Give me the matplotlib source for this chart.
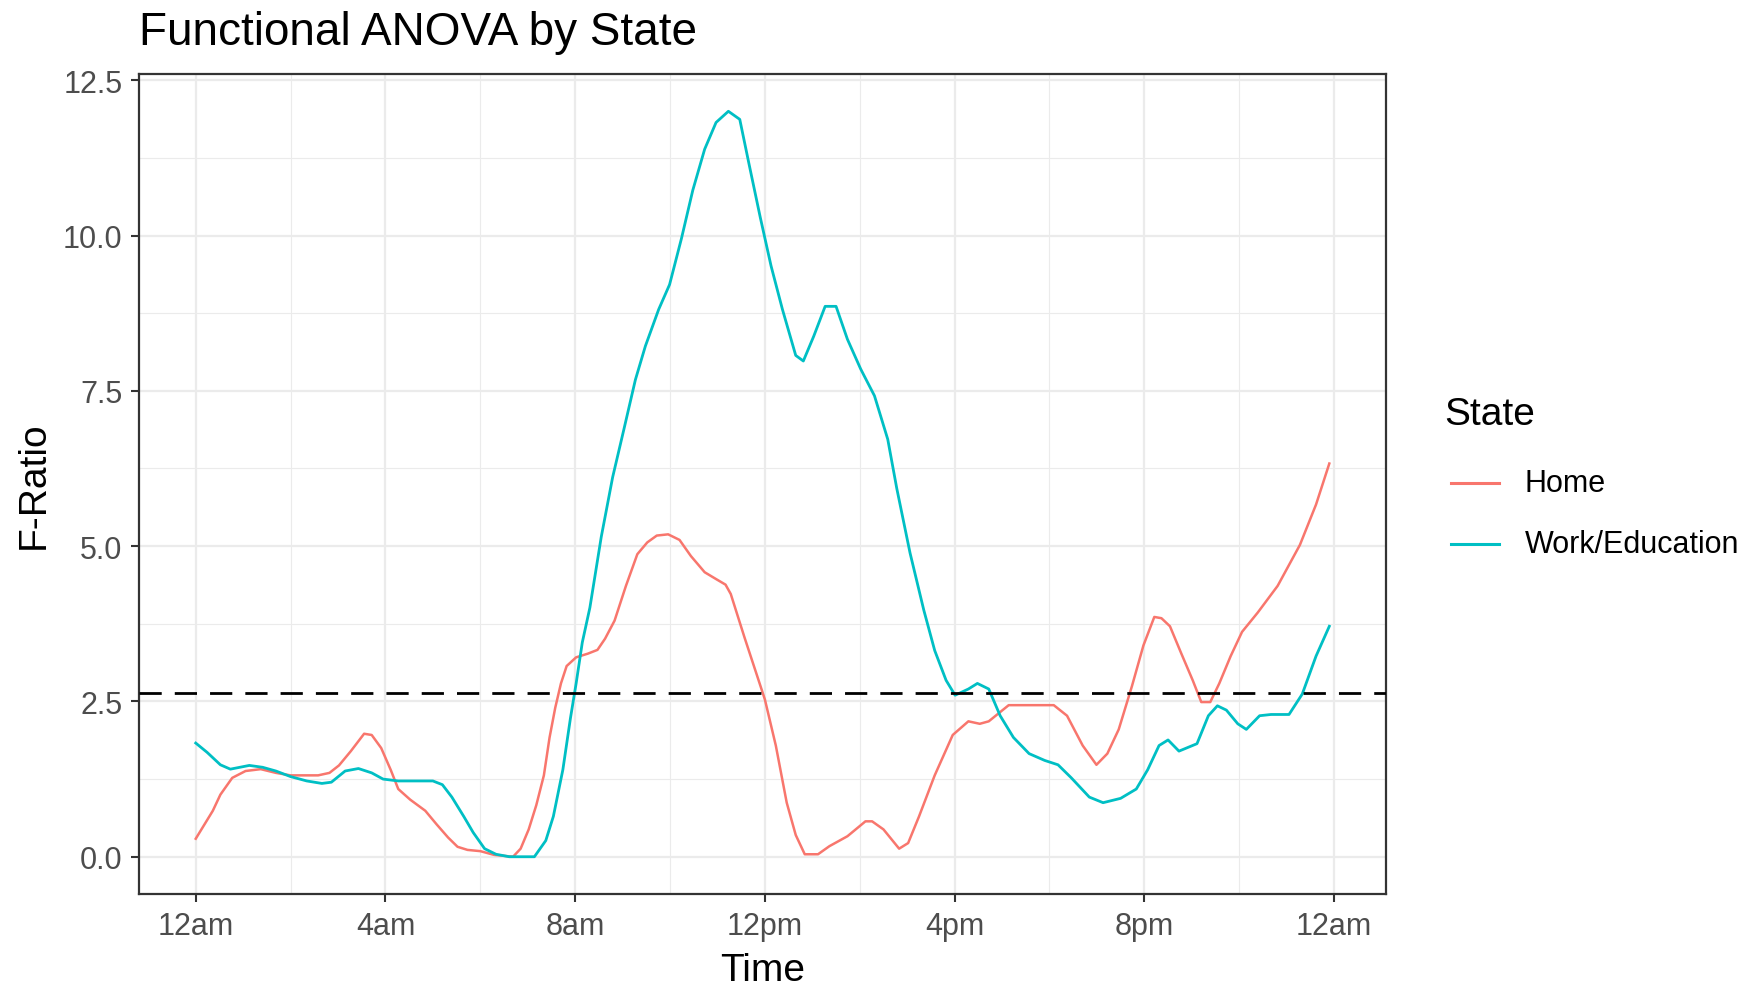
import numpy as np
import matplotlib.pyplot as plt
from matplotlib.lines import Line2D

plt.rcParams['font.family'] = ['Liberation Sans', 'DejaVu Sans']

# F-ratio curves over the day (hours since midnight)
home_t = [0.0, 0.36, 0.52, 0.77, 1.05, 1.37, 1.69, 2.0, 2.58, 2.82, 3.02, 3.27, 3.55, 3.71,
          3.91, 4.11, 4.27, 4.52, 4.84, 5.08, 5.32, 5.52, 5.73, 6.0, 6.29, 6.69, 6.85, 7.02,
          7.18, 7.34, 7.46, 7.58, 7.7, 7.82, 8.02, 8.27, 8.47, 8.63, 8.83, 9.07, 9.31, 9.52,
          9.72, 9.96, 10.2, 10.44, 10.73, 10.97, 11.17, 11.28, 11.57, 11.85, 12.0, 12.23,
          12.46, 12.65, 12.84, 13.12, 13.36, 13.74, 14.12, 14.26, 14.5, 14.83, 15.02, 15.25,
          15.58, 15.96, 16.29, 16.53, 16.72, 17.14, 17.61, 18.09, 18.37, 18.7, 18.99, 19.22,
          19.46, 19.74, 19.98, 20.21, 20.36, 20.54, 20.78, 21.02, 21.2, 21.39, 21.58, 21.82,
          22.06, 22.39, 22.81, 23.28, 23.62, 23.9]
home_f = [0.29, 0.74, 1.0, 1.27, 1.38, 1.41, 1.35, 1.31, 1.31, 1.35, 1.47, 1.70, 1.98, 1.96,
          1.75, 1.40, 1.09, 0.92, 0.74, 0.52, 0.31, 0.16, 0.11, 0.09, 0.03, 0.0, 0.13, 0.44,
          0.83, 1.31, 1.92, 2.40, 2.79, 3.07, 3.21, 3.27, 3.33, 3.51, 3.80, 4.36, 4.87, 5.06,
          5.17, 5.19, 5.10, 4.84, 4.58, 4.47, 4.38, 4.23, 3.53, 2.88, 2.53, 1.79,
          0.87, 0.35, 0.04, 0.04, 0.17, 0.33, 0.57, 0.57, 0.44, 0.13, 0.22, 0.65,
          1.31, 1.96, 2.18, 2.14, 2.18, 2.44, 2.44, 2.44, 2.27, 1.79, 1.48, 1.66,
          2.05, 2.75, 3.40, 3.86, 3.84, 3.71, 3.27, 2.84, 2.49, 2.49, 2.79, 3.23,
          3.62, 3.93, 4.36, 5.02, 5.67, 6.33]

work_t = [0.0, 0.24, 0.52, 0.73, 1.13, 1.41, 1.69, 2.0, 2.34, 2.66, 2.86, 3.15, 3.43, 3.71,
          3.95, 4.27, 5.0, 5.2, 5.4, 5.65, 5.85, 6.09, 6.33, 6.61, 7.14, 7.38, 7.54, 7.74,
          7.9, 8.02, 8.15, 8.31, 8.55, 8.79, 9.03, 9.27, 9.48, 9.76, 9.99, 10.24, 10.48,
          10.73, 10.97, 11.23, 11.47, 11.66, 11.9, 12.13, 12.37, 12.65, 12.81, 13.03, 13.27,
          13.5, 13.74, 14.02, 14.31, 14.59, 14.78, 15.06, 15.35, 15.58, 15.82, 16.01, 16.29,
          16.48, 16.72, 16.96, 17.24, 17.57, 17.9, 18.18, 18.46, 18.84, 19.13, 19.5, 19.83,
          20.07, 20.31, 20.5, 20.73, 21.11, 21.35, 21.54, 21.73, 21.97, 22.15, 22.43, 22.67,
          23.05, 23.33, 23.62, 23.9]
work_f = [1.83, 1.68, 1.48, 1.41, 1.47, 1.44, 1.38, 1.29, 1.22, 1.18, 1.20, 1.38, 1.42, 1.35,
          1.25, 1.22, 1.22, 1.16, 0.96, 0.65, 0.39, 0.13, 0.04, 0.0, 0.0, 0.26, 0.65, 1.40,
          2.23, 2.79, 3.45, 4.01, 5.15, 6.11, 6.89, 7.68, 8.22, 8.81, 9.21, 9.95, 10.73,
          11.39, 11.82, 12.0, 11.87, 11.17, 10.30, 9.51, 8.81, 8.07, 7.98, 8.38, 8.86,
          8.86, 8.33, 7.85, 7.42, 6.72, 5.93, 4.89, 3.97, 3.32, 2.84, 2.60, 2.70,
          2.79, 2.70, 2.27, 1.92, 1.66, 1.55, 1.48, 1.27, 0.96, 0.87, 0.94, 1.09,
          1.40, 1.79, 1.88, 1.70, 1.82, 2.27, 2.43, 2.36, 2.14, 2.05, 2.27, 2.29,
          2.29, 2.62, 3.23, 3.71]

critical_f = 2.64
x_ticks = [0, 4, 8, 12, 16, 20, 24]
x_labels = ['12am', '4am', '8am', '12pm', '4pm', '8pm', '12am']
y_ticks = [0.0, 2.5, 5.0, 7.5, 10.0, 12.5]
series = ['Home', 'Work/Education']
colors = ['#F8766D', '#00BFC4']

fig = plt.figure(figsize=(17.58, 9.87), dpi=100)
ax = fig.add_axes([0.0791, 0.0932, 0.7093, 0.8308])

ax.plot(home_t, home_f, color=colors[0], lw=1.8, zorder=3, solid_joinstyle='round')
ax.plot(work_t, work_f, color=colors[1], lw=2.0, zorder=3, solid_joinstyle='round')
ax.axhline(critical_f, color='black', lw=2.0, dashes=(8, 4.7), zorder=4)

ax.set_xlim(-1.195, 25.095)
ax.set_ylim(-0.6, 12.6)
ax.set_xticks(x_ticks)
ax.set_xticklabels(x_labels)
ax.set_yticks(y_ticks)
ax.set_yticklabels(['%.1f' % v for v in y_ticks])
ax.set_xticks(np.arange(2, 24, 4), minor=True)
ax.set_yticks(np.arange(1.25, 12.5, 2.5), minor=True)

ax.grid(which='major', color='#EBEBEB', lw=1.6, zorder=0)
ax.grid(which='minor', color='#EBEBEB', lw=0.8, zorder=0)
ax.set_axisbelow(True)
for s in ax.spines.values():
    s.set_color('#333333')
    s.set_linewidth(1.6)
ax.tick_params(which='major', length=6, width=1.5, color='#333333',
               labelsize=22, labelcolor='#4D4D4D', pad=6)
ax.tick_params(which='minor', length=0)

fig.text(0.0791, 0.967, 'Functional ANOVA by State', fontsize=33, ha='left', va='center')
fig.text(0.4337, 0.016, 'Time', fontsize=28, ha='center', va='center')
fig.text(0.019, 0.5088, 'F-Ratio', fontsize=28, ha='center', va='center', rotation=90)

# legend drawn in figure coordinates
W, H = 1758, 987
fig.text(1444 / W, 1 - 415 / H, 'State', fontsize=28, ha='left', va='center')
for name, c, yy in zip(series, colors, [484, 545]):
    fig.add_artist(Line2D([1451 / W, 1499 / W], [1 - yy / H, 1 - yy / H], color=c, lw=2.2))
    fig.text(1525 / W, 1 - yy / H, name, fontsize=22, ha='left', va='center')

fig.savefig('out.png', dpi=100)
